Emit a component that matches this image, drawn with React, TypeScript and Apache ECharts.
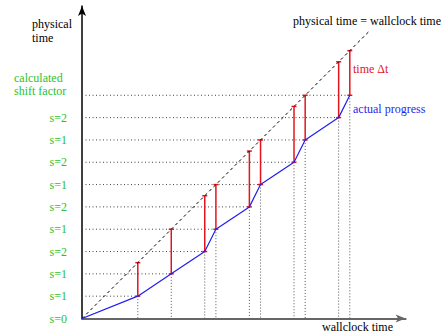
import React, { useEffect, useRef } from "react";
import * as echarts from "echarts";

const wallclock = [0, 2.5, 4, 5.5, 6, 7.5, 8, 9.5, 10, 11.5, 12];
const physical = [0, 1, 2, 3, 4, 5, 6, 7, 8, 9, 10];
const shiftLabels = ["s=0", "s=1", "s=1", "s=2", "s=1", "s=2", "s=1", "s=2", "s=1", "s=2"];
const idealEnd = 12.9;

const FONT = "Liberation Serif";
const FS = 12;
const GREEN = "#2dbf2d";
const RED = "#e3141e";
const BLUE = "#1f1ff0";

export default function App() {
  const ref = useRef<HTMLDivElement>(null);
  useEffect(() => {
    if (!ref.current) return;
    const chart = echarts.init(ref.current, undefined, { renderer: "svg" });
    const progress = wallclock.map((x, i) => [x, physical[i]]);
    const gaps = wallclock.slice(1).map((x, i) => [x, physical[i + 1], x]);
    const levels = wallclock.slice(1).map((x, i) => [x, physical[i + 1]]);
    const txt = (text: string, left: number, top: number, fill: string) => ({
      type: "text",
      left,
      top,
      style: { text, fontFamily: FONT, fontSize: FS, fill },
    });

    chart.setOption({
      animation: false,
      grid: { left: 82, top: 6, width: 323.6, height: 312.5 },
      xAxis: {
        type: "value",
        min: 0,
        max: 14.5,
        axisLine: {
          show: true,
          symbol: ["none", "arrow"],
          symbolSize: [6, 10],
          lineStyle: { color: "#666", width: 2 },
        },
        axisTick: { show: false },
        axisLabel: { show: false },
        splitLine: { show: false },
      },
      yAxis: {
        type: "value",
        min: 0,
        max: 14,
        interval: 1,
        axisLine: {
          show: true,
          symbol: ["none", "arrow"],
          symbolSize: [6, 10],
          lineStyle: { color: "#000", width: 1.5 },
        },
        axisTick: { show: false },
        splitLine: { show: false },
        axisLabel: {
          margin: 15,
          fontFamily: FONT,
          fontSize: FS,
          color: GREEN,
          formatter: (v: number) => shiftLabels[Math.round(v)] ?? "",
        },
      },
      series: [
        {
          type: "custom",
          coordinateSystem: "cartesian2d",
          data: levels,
          silent: true,
          renderItem: (params: any, api: any) => {
            const x = api.value(0);
            const y = api.value(1);
            const a = api.coord([0, y]);
            const b = api.coord([x, y]);
            const c = api.coord([x, 0]);
            return {
              type: "group",
              children: [
                {
                  type: "line",
                  shape: { x1: a[0], y1: a[1], x2: b[0], y2: b[1] },
                  style: { stroke: "#444", lineWidth: 1, lineDash: [1, 2.5] },
                },
                {
                  type: "line",
                  shape: { x1: b[0], y1: b[1], x2: c[0], y2: c[1] },
                  style: { stroke: "#555", lineWidth: 1, lineDash: [1, 2] },
                },
              ],
            };
          },
        },
        {
          type: "line",
          data: [[0, 0], [idealEnd, idealEnd]],
          symbol: "none",
          lineStyle: { color: "#000", width: 1, type: [3, 3] },
          silent: true,
        },
        {
          type: "line",
          data: progress,
          symbol: "none",
          lineStyle: { color: BLUE, width: 1.2 },
          silent: true,
        },
        {
          type: "custom",
          coordinateSystem: "cartesian2d",
          data: gaps,
          silent: true,
          renderItem: (params: any, api: any) => {
            const x = api.value(0);
            const lo = api.coord([x, api.value(1)]);
            const hi = api.coord([x, api.value(2)]);
            return {
              type: "group",
              children: [
                {
                  type: "line",
                  shape: { x1: lo[0], y1: lo[1], x2: hi[0], y2: hi[1] },
                  style: { stroke: RED, lineWidth: 1.5 },
                },
                {
                  type: "line",
                  shape: { x1: lo[0] - 2.5, y1: lo[1], x2: lo[0] + 2.5, y2: lo[1] },
                  style: { stroke: RED, lineWidth: 1.5 },
                },
                {
                  type: "line",
                  shape: { x1: hi[0] - 2.5, y1: hi[1], x2: hi[0] + 2.5, y2: hi[1] },
                  style: { stroke: RED, lineWidth: 1.5 },
                },
              ],
            };
          },
        },
      ],
      graphic: [
        txt("physical", 32, 18, "#000"),
        txt("time", 32, 32, "#000"),
        txt("calculated", 14, 72, GREEN),
        txt("shift factor", 14, 85, GREEN),
        {
          type: "text",
          right: 3,
          top: 15,
          style: { text: "physical time = wallclock time", fontFamily: FONT, fontSize: FS, fill: "#000" },
        },
        txt("time Δt", 353, 63, RED),
        txt("actual progress", 353, 103, BLUE),
        txt("wallclock time", 322, 321, "#000"),
      ],
    });
    return () => chart.dispose();
  }, []);
  return (
    <div
      ref={ref}
      style={{ position: "fixed", left: 0, top: 0, width: 444, height: 335, background: "#fff" }}
    />
  );
}
